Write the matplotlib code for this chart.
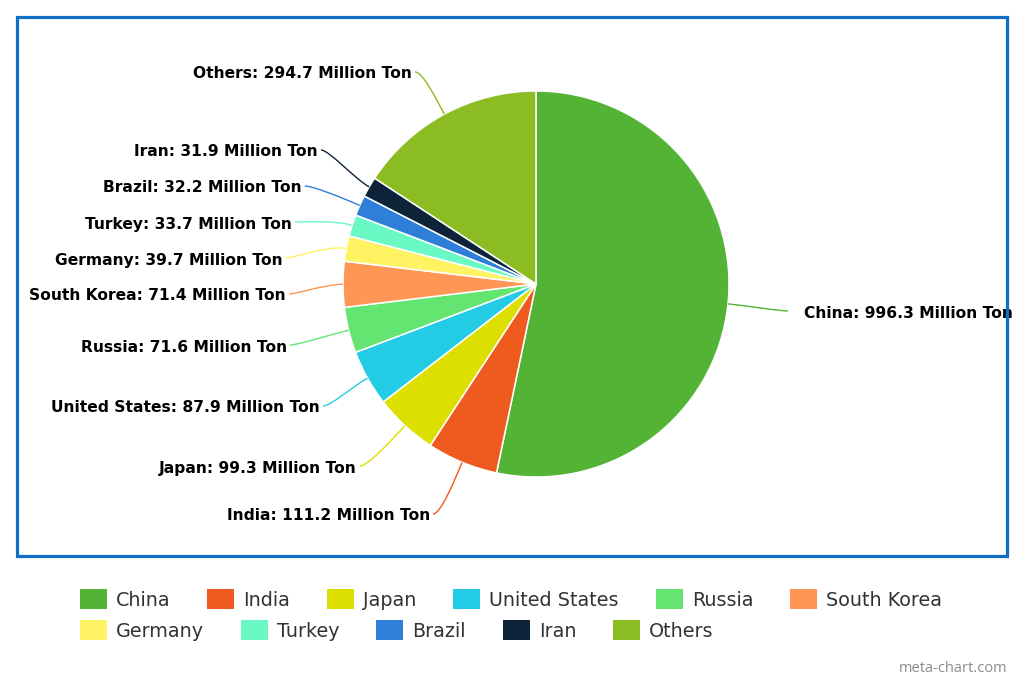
"""세계 철강 생산량 파이 차트 (meta-chart 스타일) 재현."""

import numpy as np
import matplotlib
matplotlib.use("Agg")
import matplotlib.pyplot as plt
from matplotlib.patches import Rectangle, PathPatch
from matplotlib.path import Path

# 데이터
countries = ["China", "India", "Japan", "United States", "Russia", "South Korea",
             "Germany", "Turkey", "Brazil", "Iran", "Others"]
production = [996.3, 111.2, 99.3, 87.9, 71.6, 71.4, 39.7, 33.7, 32.2, 31.9, 294.7]
colors = ["#52b335", "#ef5a1e", "#dddf00", "#24cbe5", "#64e572", "#ff9655",
          "#fff263", "#6af9c4", "#2f7ed8", "#0d233a", "#8bbc21"]
unit = "Million Ton"

# 레이아웃 (픽셀 좌표, 위에서 아래로)
CENTER = (536, 284)
RADIUS = 193
# 라벨 끝점(왼쪽은 텍스트 오른쪽 끝, 오른쪽은 텍스트 시작점)과 세로 중심
label_anchor = [(804, 313), (430, 515), (357, 467), (320, 407), (287, 346), (286, 295),
                (283, 259), (292, 223), (302, 187), (318, 151), (412, 73)]
LEGEND_ROWS = [6, 5]

W, H = 1024, 683
fig = plt.figure(figsize=(W / 100, H / 100), dpi=100)
ax = fig.add_axes([0, 0, 1, 1])

wedges, _ = ax.pie(
    production,
    colors=colors,
    startangle=-90,
    counterclock=True,
    center=CENTER,
    radius=RADIUS,
    wedgeprops=dict(edgecolor="white", linewidth=1.1),
)
ax.set_xlim(0, W)
ax.set_ylim(H, 0)
ax.set_aspect("equal")
ax.axis("off")

label_font = dict(family="DejaVu Sans", weight="bold", size=11.2, color="black")

for wedge, name, value, color, (lx, ly) in zip(wedges, countries, production, colors, label_anchor):
    mid = np.deg2rad((wedge.theta1 + wedge.theta2) / 2)
    ux, uy = np.cos(mid), np.sin(mid)
    ex, ey = CENTER[0] + RADIUS * ux, CENTER[1] + RADIUS * uy
    text = f"{name}: {value} {unit}"
    if ex > CENTER[0]:
        sx, sy = lx - 16, ly - 2
        c1 = (sx - 8, sy)
        ax.text(lx, ly + 5.5, text, ha="left", va="baseline", zorder=3, **label_font)
    else:
        sx, sy = lx + 3, ly - 1
        c1 = (sx + 8, sy)
        ax.text(lx, ly + 5.5, text, ha="right", va="baseline", zorder=3, **label_font)
    c2 = (ex + 18 * ux, ey + 18 * uy)
    path = Path([(sx, sy), c1, c2, (ex, ey)],
                [Path.MOVETO, Path.CURVE4, Path.CURVE4, Path.CURVE4])
    ax.add_patch(PathPatch(path, facecolor="none", edgecolor=color, linewidth=1.0, zorder=2))

# 테두리
ax.add_patch(Rectangle((17, 17), 990, 539, facecolor="none", edgecolor="#0f6fc6",
                       linewidth=2.3, zorder=5))

# 범례 (흐름 배치, 가운데 정렬)
legend_font = dict(family="DejaVu Sans", size=13.8, color="#333333")
fig.canvas.draw()
renderer = fig.canvas.get_renderer()


def text_width(s):
    t = ax.text(0, 0, s, **legend_font)
    bb = t.get_window_extent(renderer=renderer)
    t.remove()
    return bb.width


SQ_W, SQ_H, TXT_GAP, ITEM_GAP = 27, 20, 36, 37
rows, start = [], 0
for n in LEGEND_ROWS:
    rows.append(list(range(start, start + n)))
    start += n

row_widths = []
for row in rows:
    w = sum(TXT_GAP + text_width(countries[i]) for i in row) + ITEM_GAP * (len(row) - 1)
    row_widths.append(w)
x0 = 511 - max(row_widths) / 2

for r, row in enumerate(rows):
    yc = 599 + r * 31
    x = x0
    for i in row:
        ax.add_patch(Rectangle((x, yc - SQ_H / 2), SQ_W, SQ_H, facecolor=colors[i],
                               edgecolor="none", zorder=3))
        ax.text(x + TXT_GAP, yc + 7, countries[i], ha="left", va="baseline", **legend_font)
        x += TXT_GAP + text_width(countries[i]) + ITEM_GAP

ax.text(1007, 668, "meta-chart.com", ha="right", va="center", family="Open Sans",
        size=10.5, color="#8c8c8c")

fig.savefig("out.png", dpi=100)
